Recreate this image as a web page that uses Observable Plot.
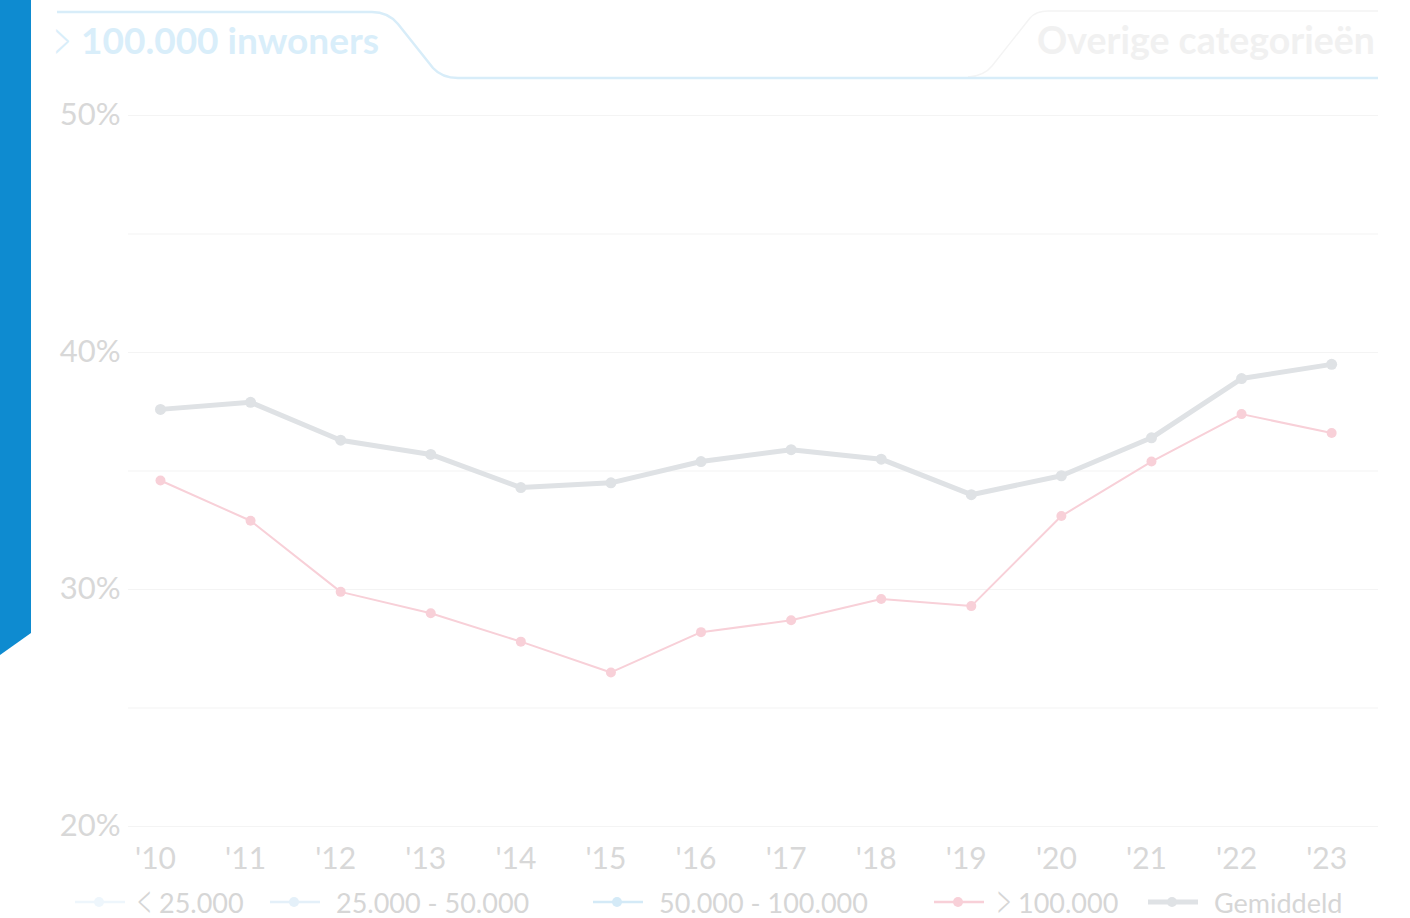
<!DOCTYPE html>
<html>
<head>
<meta charset="utf-8">
<script src="https://cdn.jsdelivr.net/npm/d3@7"></script>
<script src="https://cdn.jsdelivr.net/npm/@observablehq/plot@0.6"></script>
<style>
  html, body { margin: 0; padding: 0; background: #fff; }
  #wrap { position: relative; width: 1410px; height: 918px; overflow: hidden; font-family: Lato, "Open Sans", sans-serif; }
  #chart { position: absolute; left: 0; top: 0; }
  #deco { position: absolute; left: 0; top: 0; pointer-events: none; }
</style>
</head>
<body>
<div id="wrap">
  <div id="chart"></div>
  <svg id="deco" width="1410" height="918" xmlns="http://www.w3.org/2000/svg"></svg>
</div>
<script>
// ---- data ----
const years = [2010, 2011, 2012, 2013, 2014, 2015, 2016, 2017, 2018, 2019, 2020, 2021, 2022, 2023];
const gemiddeld = [37.6, 37.9, 36.3, 35.7, 34.3, 34.5, 35.4, 35.9, 35.5, 34.0, 34.8, 36.4, 38.9, 39.5];
const boven100000 = [34.6, 32.9, 29.9, 29.0, 27.8, 26.5, 28.2, 28.7, 29.6, 29.3, 33.1, 35.4, 37.4, 36.6];
const yTicks = [20, 30, 40, 50];
const gridTicks = [20, 25, 30, 35, 40, 45, 50];
const legendChevrons = ["<", "", "", ">", ""];
const legendLabels = ["25.000", "25.000 - 50.000", "50.000 - 100.000", "100.000", "Gemiddeld"];
const legendColors = ["#eef6fc", "#e4f0f9", "#d4eaf7", "#f8d0d8", "#dfe2e5"];
const titleChevron = ">";
const titleActive = "100.000 inwoners";
const titleOther = "Overige categorieën";

const gemData = years.map((y, i) => ({year: y, value: gemiddeld[i]}));
const grootData = years.map((y, i) => ({year: y, value: boven100000[i]}));

const chart = Plot.plot({
  width: 1410,
  height: 918,
  marginTop: 115,
  marginBottom: 92,
  marginLeft: 128,
  marginRight: 32,
  x: {domain: [2009.645, 2023.52]},
  y: {domain: [20, 50]},
  style: {fontFamily: "Lato, sans-serif", fontSize: "30px", color: "#d8d8d8", background: "transparent", overflow: "visible"},
  marks: [
    Plot.ruleY(gridTicks, {stroke: "#f4f4f4", strokeWidth: 1.2}),
    Plot.axisY({ticks: yTicks, tickFormat: d => d + "%", tickSize: 0, tickPadding: 8, label: null, fontSize: 31}),
    Plot.axisX({ticks: years, tickFormat: d => "'" + String(d).slice(2), tickSize: 0, tickPadding: 21, dx: -5, label: null}),
    Plot.line(gemData, {x: "year", y: "value", stroke: "#dfe2e5", strokeWidth: 5}),
    Plot.dot(gemData, {x: "year", y: "value", fill: "#dfe2e5", r: 5.5}),
    Plot.line(grootData, {x: "year", y: "value", stroke: "#f8d0d8", strokeWidth: 2}),
    Plot.dot(grootData, {x: "year", y: "value", fill: "#f8d0d8", r: 5})
  ]
});
document.getElementById("chart").appendChild(chart);

// ---- decoration: left strip, tabs, legend ----
const deco = d3.select("#deco");
deco.append("polygon").attr("points", "0,0 31,0 31,633 0,655").attr("fill", "#0e8bd0");

// right (inactive) tab outline
deco.append("path")
  .attr("d", "M 968 77 Q 984 76 992 66 L 1030 18 Q 1036 11 1048 11 L 1378 11")
  .attr("fill", "none").attr("stroke", "#f4f4f4").attr("stroke-width", 1.5);
// active tab outline + baseline
deco.append("path")
  .attr("d", "M 57 12 L 372 12 Q 388 12 398 24 L 433 68 Q 442 78 458 78 L 1378 78")
  .attr("fill", "none").attr("stroke", "#d8edf9").attr("stroke-width", 2.5);

// tall thin chevron drawn as narrowed text
function chevron(sel, ch, x, y, size, sx, color) {
  sel.append("text")
    .attr("transform", `translate(${x},${y}) scale(${sx},1)`)
    .attr("font-family", "Lato, sans-serif").attr("font-weight", 300).attr("font-size", size)
    .attr("fill", color).text(ch);
}

chevron(deco, titleChevron, 52, 62, 62, 0.55, "#d9eefa");
deco.append("text").attr("x", 81).attr("y", 54)
  .attr("font-family", "Lato, sans-serif").attr("font-weight", 700).attr("font-size", 37)
  .attr("fill", "#d9eefa").text(titleActive);
deco.append("text").attr("x", 1375).attr("y", 54).attr("text-anchor", "end")
  .attr("font-family", "Lato, sans-serif").attr("font-weight", 700).attr("font-size", 37.5)
  .attr("fill", "#f1f1f1").text(titleOther);

// legend
const legendX = [75, 270, 593, 934, 1148];
const legendY = 902;
legendLabels.forEach((lab, i) => {
  const x0 = legendX[i];
  const g = deco.append("g");
  g.append("line").attr("x1", x0).attr("x2", x0 + 50).attr("y1", legendY).attr("y2", legendY)
    .attr("stroke", legendColors[i]).attr("stroke-width", i === 4 ? 5 : 2.5);
  g.append("circle").attr("cx", x0 + 24).attr("cy", legendY).attr("r", 5).attr("fill", legendColors[i]);
  let tx = x0 + 66;
  if (legendChevrons[i]) {
    chevron(g, legendChevrons[i], x0 + 61, legendY + 18, 54, 0.55, "#d6d6d6");
    tx = x0 + 84;
  }
  g.append("text").attr("x", tx).attr("y", legendY + 11)
    .attr("font-family", "Lato, sans-serif").attr("font-size", 27).attr("fill", "#d6d6d6").text(lab);
});
</script>
</body>
</html>
